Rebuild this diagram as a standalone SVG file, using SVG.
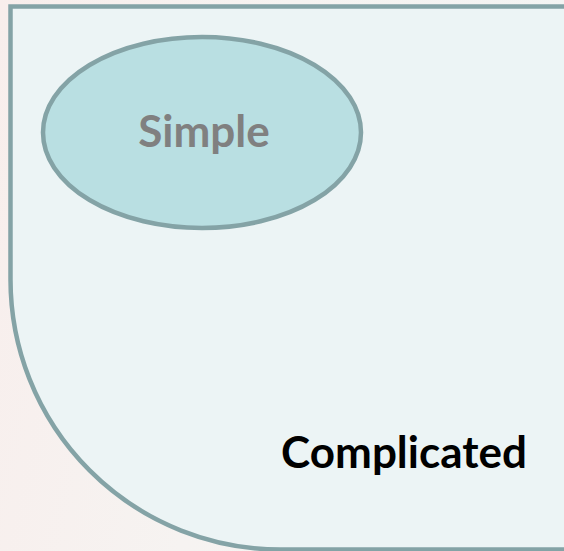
<svg xmlns="http://www.w3.org/2000/svg" width="564" height="551" viewBox="0 0 564 551">
  <defs>
    <linearGradient id="bg" x1="0" y1="0" x2="1" y2="0.2">
      <stop offset="0" stop-color="#f8eeec"/>
      <stop offset="0.5" stop-color="#f6f3f1"/>
      <stop offset="1" stop-color="#f3f4f3"/>
    </linearGradient>
    <style>
      .frame { fill: #ecf4f5; stroke: #84a3a6; stroke-width: 4.5; }
      .oval { fill: #b9dfe2; stroke: #84a3a6; stroke-width: 4.5; }
      .lbl { font-family: Lato, "Liberation Sans", sans-serif; font-weight: bold; font-size: 44px; text-anchor: middle; }
    </style>
  </defs>
  <rect x="0" y="0" width="564" height="551" fill="url(#bg)"/>
  <g id="complicated">
    <path class="frame" d="M 10.5 6.5 H 572 V 549.5 H 280.5 A 270 270 0 0 1 10.5 279.5 Z"/>
    <text class="lbl" x="404" y="468" fill="#000000">Complicated</text>
  </g>
  <g id="simple">
    <ellipse class="oval" cx="202" cy="132.5" rx="159" ry="95.5"/>
    <text class="lbl" x="204" y="147" fill="#808080">Simple</text>
  </g>
  <g id="connectors"/>
</svg>
